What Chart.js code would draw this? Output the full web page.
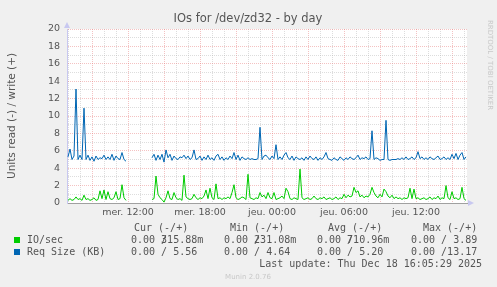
<!DOCTYPE html>
<html>
<head>
<meta charset="utf-8">
<script src="https://cdn.jsdelivr.net/npm/chart.js@4/dist/chart.umd.min.js"></script>
<style>
  html, body { margin: 0; padding: 0; background: #f0f0f0; }
  canvas { display: block; }
</style>
</head>
<body>
<canvas id="myChart" width="497" height="287"></canvas>
<script>
// samples every 10 minutes, starting Wed 07:00 (minutes since Wed 00:00)
const startMin = 420;
const stepMin = 10;

const tickMinutes = [720, 1080, 1440, 1800, 2160];
const tickLabels = ["mer. 12:00", "mer. 18:00", "jeu. 00:00", "jeu. 06:00", "jeu. 12:00"];

const reqSize = [
  5.3, 6.2, 5.0, 5.4, 13.1, 5.0, 5.5, 5.0, 10.9, 5.0,
  5.5, 4.9, 5.3, 4.8, 5.4, 5.0, 5.2, 5.1, 5.5, 5.0,
  5.3, 5.0, 5.6, 4.9, 5.4, 5.1, 5.0, 5.8, 5.0, 4.8,
  null, null, null, null, null, null, null, null, null, null, null, null,
  5.2, 5.6, 4.9, 5.5, 5.0, 5.6, 4.7, 6.1,
  5.2, 5.6, 4.9, 5.4, 5.1, 5.0, 5.3, 5.2, 5.5, 5.1,
  5.4, 5.0, 5.2, 6.1, 5.0, 5.1, 5.4, 4.9, 5.3, 5.0,
  5.5, 5.0, 5.2, 4.9, 5.4, 5.6, 5.0, 5.3, 4.9, 5.2,
  5.0, 5.4, 5.1, 5.8, 5.0, 5.5, 4.9, 5.3, 5.1, 5.0,
  5.2, 5.0, 5.1, 5.0, 5.0, 5.1, 8.7, 5.0, 5.4, 5.5,
  5.2, 5.0, 5.4, 5.1, 6.7, 5.0, 5.3, 5.0, 5.5, 5.8,
  5.2, 5.0, 5.4, 4.9, 5.3, 5.1, 5.0, 5.2, 4.9, 5.3,
  5.0, 5.4, 5.1, 5.0, 5.3, 4.9, 5.2, 5.0, 5.3, 5.8,
  5.1, 5.0, 4.9, 5.2, 5.0, 4.9, 5.3, 5.1, 4.9, 5.2,
  5.0, 5.3, 5.1, 5.0, 5.2, 5.5, 5.0, 5.2, 5.1, 5.3,
  5.0, 5.1, 8.3, 5.0, 5.2, 5.1, 4.9, 5.0, 5.0, 9.5,
  5.0, 4.9, 5.0, 5.0, 5.0, 5.1, 5.0, 5.2, 5.0, 5.3,
  5.0, 5.1, 5.3, 5.0, 5.2, 5.9, 5.1, 5.3, 5.0, 5.2,
  5.0, 5.3, 5.1, 5.0, 5.2, 5.4, 5.0, 5.1, 5.3, 5.0,
  5.2, 5.0, 5.6, 5.1, 5.7, 5.0, 5.5, 5.8, 5.0, 5.3
];

const ioSec = [
  0.3, 0.5, 0.3, 0.4, 0.7, 0.4, 0.5, 0.3, 0.9, 0.4,
  0.5, 0.3, 0.4, 0.6, 0.3, 0.4, 1.4, 0.5, 1.5, 0.4,
  1.3, 0.5, 0.4, 0.6, 1.3, 0.4, 0.5, 2.1, 0.6, 0.3,
  null, null, null, null, null, null, null, null, null, null, null, null,
  0.4, 0.5, 3.1, 1.0, 0.6, 0.4, 0.1, 0.6,
  1.4, 0.5, 0.4, 1.2, 0.6, 0.4, 0.5, 0.3, 3.2, 0.7,
  0.5, 0.4, 0.5, 1.0, 0.6, 0.4, 0.6, 0.5, 0.8, 1.5,
  0.5, 1.7, 0.6, 0.4, 2.2, 0.5, 0.6, 0.4, 0.6, 0.5,
  0.7, 0.5, 1.2, 2.1, 0.6, 0.4, 0.5, 0.7, 0.6, 0.4,
  3.3, 0.6, 0.5, 0.4, 0.6, 0.5, 1.2, 0.7, 0.9, 0.5,
  1.2, 0.6, 0.5, 1.2, 0.4, 0.5, 0.6, 0.8, 0.5, 1.7,
  1.3, 0.5, 0.4, 0.6, 0.5, 0.4, 3.9, 0.6, 0.4, 0.5,
  0.6, 0.4, 0.5, 0.8, 0.5, 0.4, 0.6, 0.5, 0.7, 0.4,
  0.5, 0.6, 0.4, 0.5, 0.7, 0.4, 0.6, 0.5, 1.0, 0.6,
  0.9, 0.7, 0.8, 1.8, 1.2, 1.4, 0.7, 0.9, 0.6, 0.8,
  0.7, 1.0, 1.8, 1.2, 0.8, 0.6, 1.0, 0.7, 1.6, 1.3,
  0.8, 0.6, 0.9, 0.5, 0.7, 0.5, 0.6, 0.4, 0.6, 0.5,
  0.6, 1.7, 0.5, 1.6, 0.5, 0.6, 0.4, 0.5, 0.6, 0.4,
  0.5, 0.7, 0.4, 0.6, 0.5, 0.8, 0.4, 0.6, 0.5, 2.0,
  0.6, 0.4, 1.3, 0.5, 0.6, 0.4, 0.5, 1.8, 0.5, 0.3
];

const seriesNames = ["IO/sec", "Req Size (KB)"];
const seriesColors = ["#00cc00", "#0066b3"];
const legendRows = [
  ["0.00 315.88m", "0.00 231.08m", "0.00 710.96m", "0.00 / 3.89"],
  ["0.00 / 5.56", "0.00 / 4.64", "0.00 / 5.20", "0.00 /13.17"]
];

const toPoints = (vals) => vals.map((v, i) => ({ x: startMin + i * stepMin, y: v }));

const ctx = document.getElementById("myChart");

const majorGrid = "rgba(230,120,120,0.45)";
const minorGrid = "rgba(180,180,180,0.45)";

const decor = {
  id: "decor",
  beforeDraw(chart) {
    const c = chart.ctx;
    const a = chart.chartArea;
    c.save();
    c.fillStyle = "#f0f0f0";
    c.fillRect(0, 0, chart.width, chart.height);
    c.fillStyle = "#ffffff";
    c.fillRect(a.left, a.top, a.right - a.left, a.bottom - a.top);
    c.restore();
  },
  afterDraw(chart) {
    const c = chart.ctx;
    const a = chart.chartArea;
    c.save();
    // title
    c.fillStyle = "#555";
    c.font = '11.5px "DejaVu Sans"';
    c.textAlign = "center";
    c.textBaseline = "middle";
    c.fillText("IOs for /dev/zd32 - by day", 248, 19);

    // y axis title
    c.save();
    c.translate(12, 116);
    c.rotate(-Math.PI / 2);
    c.font = '10.5px "DejaVu Sans"';
    c.fillText("Units read (-) / write (+)", 0, 0);
    c.restore();

    // rrdtool credit
    c.save();
    c.translate(490, 65);
    c.rotate(Math.PI / 2);
    c.fillStyle = "#c8c8c8";
    c.font = '7px "DejaVu Sans"';
    c.fillText("RRDTOOL / TOBI OETIKER", 0, 0);
    c.restore();

    // axis arrows
    c.fillStyle = "#c8c8f0";
    c.beginPath();
    c.moveTo(a.left - 3, a.top - 1);
    c.lineTo(a.left + 3, a.top - 1);
    c.lineTo(a.left, a.top - 7);
    c.fill();
    c.beginPath();
    c.moveTo(a.right + 1, a.bottom - 3);
    c.lineTo(a.right + 1, a.bottom + 3);
    c.lineTo(a.right + 7, a.bottom);
    c.fill();

    // legend
    c.font = '10px "DejaVu Sans Mono"';
    c.textAlign = "left";
    c.fillStyle = "#555";
    const heads = ["Cur (-/+)", "Min (-/+)", "Avg (-/+)", "Max (-/+)"];
    const headX = [134, 230, 328, 423];
    const colX = [131, 224, 317, 411];
    heads.forEach((h, i) => c.fillText(h, headX[i], 228));
    seriesNames.forEach((name, r) => {
      const y = 240 + r * 12;
      c.fillStyle = seriesColors[r];
      c.fillRect(14, y - 3, 6, 6);
      c.fillStyle = "#555";
      c.fillText(name, 27, y);
      legendRows[r].forEach((t, i) => {
        c.fillText(t, colX[i], y);
        if (r === 0 && i < 3) c.fillText("/", colX[i] + 30, y);
      });
    });
    c.textAlign = "right";
    c.fillText("Last update: Thu Dec 18 16:05:29 2025", 482, 264);
    c.textAlign = "center";
    c.fillStyle = "#c8c8c8";
    c.font = '7px "DejaVu Sans"';
    c.fillText("Munin 2.0.76", 248, 277);
    c.restore();
  }
};

new Chart(ctx, {
  type: "line",
  data: {
    datasets: [
      {
        label: seriesNames[0],
        data: toPoints(ioSec),
        borderColor: seriesColors[0],
        borderWidth: 1,
        pointRadius: 0,
        spanGaps: false,
        tension: 0,
      },
      {
        label: seriesNames[1],
        data: toPoints(reqSize),
        borderColor: seriesColors[1],
        borderWidth: 1,
        pointRadius: 0,
        spanGaps: false,
        tension: 0,
      },
    ],
  },
  options: {
    responsive: false,
    animation: false,
    events: [],
    layout: { padding: { top: 29, right: 30, left: 0, bottom: 0 } },
    plugins: { legend: { display: false }, title: { display: false }, tooltip: { enabled: false } },
    scales: {
      x: {
        type: "linear",
        min: 415,
        max: 2415,
        afterFit: (s) => { s.height = 84; },
        afterBuildTicks: (s) => {
          const t = [];
          for (let m = 420; m <= 2400; m += 60) t.push({ value: m });
          s.ticks = t;
        },
        grid: {
          drawTicks: false,
          color: (g) => (g.tick && g.tick.value % 180 === 0 ? majorGrid : minorGrid),
        },
        border: { display: true, color: "#a0a0a0", dash: [1, 1] },
        ticks: {
          autoSkip: false,
          maxRotation: 0,
          padding: 4,
          color: "#555",
          font: { family: "DejaVu Sans", size: 9.5 },
          callback: (v) => {
            const k = tickMinutes.indexOf(v);
            return k >= 0 ? tickLabels[k] : "";
          },
        },
      },
      y: {
        min: 0,
        max: 20,
        afterFit: (s) => { s.width = 67; },
        grid: {
          drawTicks: false,
          color: (g) => (g.tick && g.tick.value % 2 === 0 ? majorGrid : minorGrid),
        },
        border: { display: true, color: "#c8c8f0", dash: [1, 1] },
        ticks: {
          stepSize: 1,
          autoSkip: false,
          padding: 7,
          color: "#555",
          font: { family: "DejaVu Sans", size: 9.5 },
          callback: (v) => (v % 2 === 0 ? String(v) : ""),
        },
      },
    },
  },
  plugins: [decor],
});
</script>
</body>
</html>
